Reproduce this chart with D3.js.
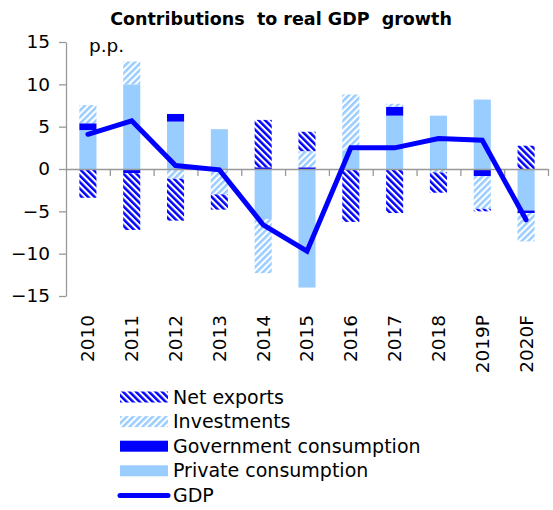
<!DOCTYPE html>
<html>
<head>
<meta charset="utf-8">
<script src="https://cdn.jsdelivr.net/npm/d3@7"></script>
<style>
  body { margin: 0; background: #fff; }
  text { font-family: "DejaVu Sans", Verdana, sans-serif; fill: #000; }
</style>
</head>
<body>
<div id="chart"></div>
<script>
const years = ["2010", "2011", "2012", "2013", "2014", "2015", "2016", "2017", "2018", "2019P", "2020F"];
const privateCons = [4.6, 10.0, 5.6, 4.7, -5.9, -14.0, 2.2, 6.3, 6.3, 8.2, -4.9];
const govCons = [0.8, -0.5, 0.9, -0.1, 0.2, 0.2, 0, 1.05, 0, -0.85, -0.3];
const investments = [2.15, 2.7, -1.15, -2.9, -6.4, 1.9, 6.6, 0.35, -0.4, -3.85, -3.35];
const netExports = [-3.4, -6.7, -4.95, -1.8, 5.6, 2.3, -6.25, -5.2, -2.4, -0.3, 2.75];
const gdp = [4.1, 5.7, 0.4, -0.1, -6.6, -9.7, 2.5, 2.5, 3.6, 3.4, -6.0];
const yTicks = [-15, -10, -5, 0, 5, 10, 15];

const width = 553, height = 510;
const plot = { left: 66, right: 548, top: 42, bottom: 296 };
const font = '"DejaVu Sans", Verdana, sans-serif';

const svg = d3.select("#chart").append("svg")
    .attr("width", width)
    .attr("height", height);

// hatch patterns
const defs = svg.append("defs");
function hatch(id, color, angle) {
    const p = defs.append("pattern")
        .attr("id", id)
        .attr("patternUnits", "userSpaceOnUse")
        .attr("width", 4.6)
        .attr("height", 8)
        .attr("patternTransform", `rotate(${angle})`);
    p.append("rect").attr("width", 4.6).attr("height", 8).attr("fill", "#fff");
    p.append("rect").attr("width", 2.5).attr("height", 8).attr("fill", color);
}
hatch("hatchNX", "#0000ff", -45);
hatch("hatchInv", "#99ccff", 45);

const series = [
    { key: "private", name: "Private consumption", fill: "#99ccff", values: privateCons },
    { key: "gov", name: "Government consumption", fill: "#0000ff", values: govCons },
    { key: "inv", name: "Investments", fill: "url(#hatchInv)", values: investments },
    { key: "nx", name: "Net exports", fill: "url(#hatchNX)", values: netExports }
];

const table = years.map((yr, i) => {
    const row = { year: yr };
    series.forEach(s => row[s.key] = s.values[i]);
    return row;
});

const stack = d3.stack()
    .keys(series.map(s => s.key))
    .offset(d3.stackOffsetDiverging);
const stacked = stack(table);

const x = d3.scaleBand()
    .domain(years)
    .range([plot.left, plot.right])
    .paddingInner(0.61)
    .paddingOuter(0.305);

const xEdge = d3.scaleLinear().domain([0, years.length]).range([plot.left, plot.right]);

const y = d3.scaleLinear().domain([-15, 15]).range([plot.bottom, plot.top]);

// bars
svg.append("g")
    .selectAll("g")
    .data(stacked)
    .join("g")
    .attr("fill", (d, i) => series[i].fill)
    .selectAll("rect")
    .data(d => d)
    .join("rect")
    .attr("x", d => x(d.data.year))
    .attr("width", x.bandwidth())
    .attr("y", d => y(Math.max(d[0], d[1])))
    .attr("height", d => Math.abs(y(d[0]) - y(d[1])));

// y axis
const yAxis = svg.append("g")
    .attr("transform", `translate(${plot.left},0)`)
    .call(d3.axisLeft(y).tickValues(yTicks).tickSize(7).tickSizeOuter(0).tickPadding(9));
yAxis.selectAll("line, path").attr("stroke", "#999").attr("stroke-width", 1.3);
yAxis.selectAll("text")
    .style("font-size", "18.5px")
    .style("font-family", font);

// zero line with ticks
const xAxis = svg.append("g")
    .attr("transform", `translate(0,${y(0)})`)
    .call(d3.axisBottom(xEdge).tickValues(d3.range(1, years.length + 1)).tickSize(7).tickSizeOuter(0).tickFormat(""));
xAxis.selectAll("line, path").attr("stroke", "#999").attr("stroke-width", 1.3);

// category labels
const labels = svg.append("g")
    .attr("transform", `translate(0,315)`)
    .call(d3.axisBottom(x).tickSize(0).tickPadding(0));
labels.select(".domain").remove();
labels.selectAll("text")
    .attr("transform", "rotate(-90)")
    .attr("text-anchor", "end")
    .attr("x", 0)
    .attr("y", 0)
    .attr("dy", "0.35em")
    .style("font-size", "18.5px")
    .style("font-family", font);

// GDP line
const line = d3.line()
    .x((d, i) => x(years[i]) + x.bandwidth() / 2)
    .y(d => y(d));
svg.append("path")
    .datum(gdp)
    .attr("d", line)
    .attr("fill", "none")
    .attr("stroke", "#0000ff")
    .attr("stroke-width", 5)
    .attr("stroke-linejoin", "miter")
    .attr("stroke-linecap", "round");

// title and unit
svg.append("text")
    .attr("x", 281)
    .attr("y", 25)
    .attr("text-anchor", "middle")
    .style("font-size", "17.5px")
    .style("font-weight", "bold")
    .style("white-space", "pre")
    .attr("xml:space", "preserve")
    .text("Contributions  to real GDP  growth");

svg.append("text")
    .attr("x", 89)
    .attr("y", 52)
    .style("font-size", "18.5px")
    .text("p.p.");

// legend
const legendItems = [
    { name: "Net exports", fill: "url(#hatchNX)" },
    { name: "Investments", fill: "url(#hatchInv)" },
    { name: "Government consumption", fill: "#0000ff" },
    { name: "Private consumption", fill: "#99ccff" },
    { name: "GDP", line: true }
];
const legend = svg.append("g")
    .selectAll("g")
    .data(legendItems)
    .join("g")
    .attr("transform", (d, i) => `translate(120, ${397 + i * 24.6})`);

legend.filter(d => !d.line).append("rect")
    .attr("x", 0)
    .attr("y", -5.5)
    .attr("width", 48)
    .attr("height", 11)
    .attr("fill", d => d.fill);

legend.filter(d => d.line).append("line")
    .attr("x1", 0).attr("x2", 48)
    .attr("y1", 0).attr("y2", 0)
    .attr("stroke", "#0000ff")
    .attr("stroke-width", 5)
    .attr("stroke-linecap", "round");

legend.append("text")
    .attr("x", 53)
    .attr("y", 0)
    .attr("dy", "0.35em")
    .style("font-size", "19px")
    .text(d => d.name);
</script>
</body>
</html>
